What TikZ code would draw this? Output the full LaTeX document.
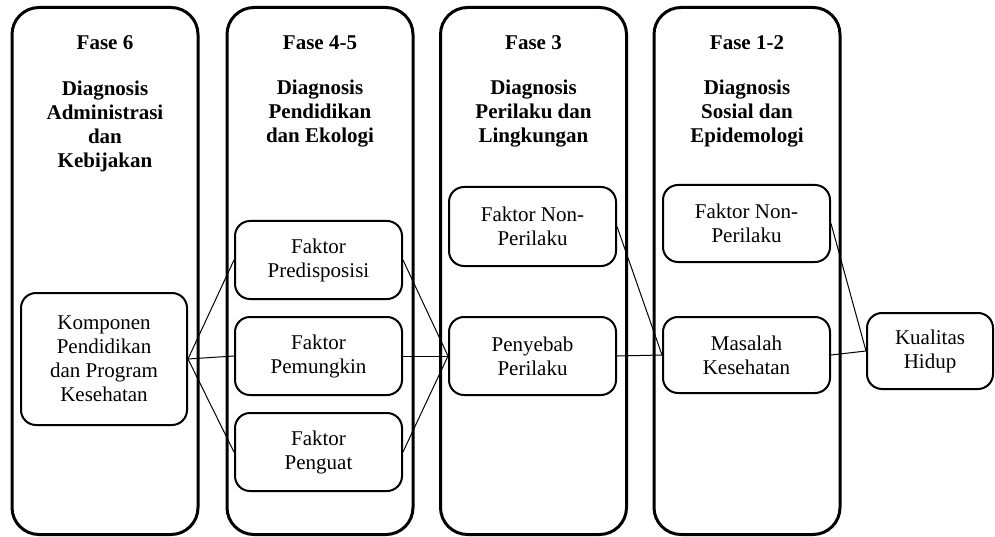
\documentclass[tikz,border=0pt]{standalone}
\usepackage{fontspec}
\setmainfont{Liberation Serif}
\begin{document}
\begin{tikzpicture}[x=1pt,y=-1pt,
  phase/.style={draw,line width=3pt,rounded corners=27pt,minimum width=186pt,minimum height=527pt,inner sep=0pt},
  factor/.style={draw,line width=2pt,rounded corners=15pt,minimum width=167pt,minimum height=78pt,inner sep=0pt,align=center,font=\fontsize{21}{24}\selectfont},
  title/.style={align=center,inner sep=0pt,font=\fontsize{21}{24}\selectfont\bfseries},
  link/.style={line width=1pt}]
\useasboundingbox (0,0) rectangle (995,537);
\node[phase] (ph6) at (105,271) {};
\node[phase] (ph45) at (320,271) {};
\node[phase] (ph3) at (533.5,271) {};
\node[phase] (ph12) at (747,271) {};
\node[title] (fase6) at (105,43) {Fase 6};
\node[title] (diag6) at (105,126.5) {Diagnosis\\Administrasi\\dan\\Kebijakan};
\node[title] (fase45) at (320,43) {Fase 4-5};
\node[title] (diag45) at (320,114) {Diagnosis\\Pendidikan\\dan Ekologi};
\node[title] (fase3) at (533.5,43) {Fase 3};
\node[title] (diag3) at (533.5,114) {Diagnosis\\Perilaku dan\\Lingkungan};
\node[title] (fase12) at (747,43) {Fase 1-2};
\node[title] (diag12) at (747,114) {Diagnosis\\Sosial dan\\Epidemologi};
\node[factor,minimum width=166pt,minimum height=132pt] (komponen) at (104,359) {Komponen\\Pendidikan\\dan Program\\Kesehatan};
\node[factor] (predis) at (318.5,260) {Faktor\\Predisposisi};
\node[factor] (pemungkin) at (318.5,356) {Faktor\\Pemungkin};
\node[factor] (penguat) at (318.5,452) {Faktor\\Penguat};
\node[factor,minimum height=79pt] (nonperA) at (532.5,226.5) {Faktor Non-\\Perilaku};
\node[factor] (penyebab) at (532.5,356) {Penyebab\\Perilaku};
\node[factor,minimum height=77pt] (nonperB) at (746.5,223.5) {Faktor Non-\\Perilaku};
\node[factor,minimum height=76pt] (masalah) at (746.5,355) {Masalah\\Kesehatan};
\node[factor,minimum width=126pt,minimum height=76pt] (kualitas) at (930,351) {Kualitas\\Hidup};
\draw[link] (komponen.east) -- (predis.west);
\draw[link] (komponen.east) -- (pemungkin.west);
\draw[link] (komponen.east) -- (penguat.west);
\draw[link] (predis.east) -- (penyebab.west);
\draw[link] (pemungkin.east) -- (penyebab.west);
\draw[link] (penguat.east) -- (penyebab.west);
\draw[link] (nonperA.east) -- (masalah.west);
\draw[link] (penyebab.east) -- (masalah.west);
\draw[link] (nonperB.east) -- (kualitas.west);
\draw[link] (masalah.east) -- (kualitas.west);
\end{tikzpicture}
\end{document}
